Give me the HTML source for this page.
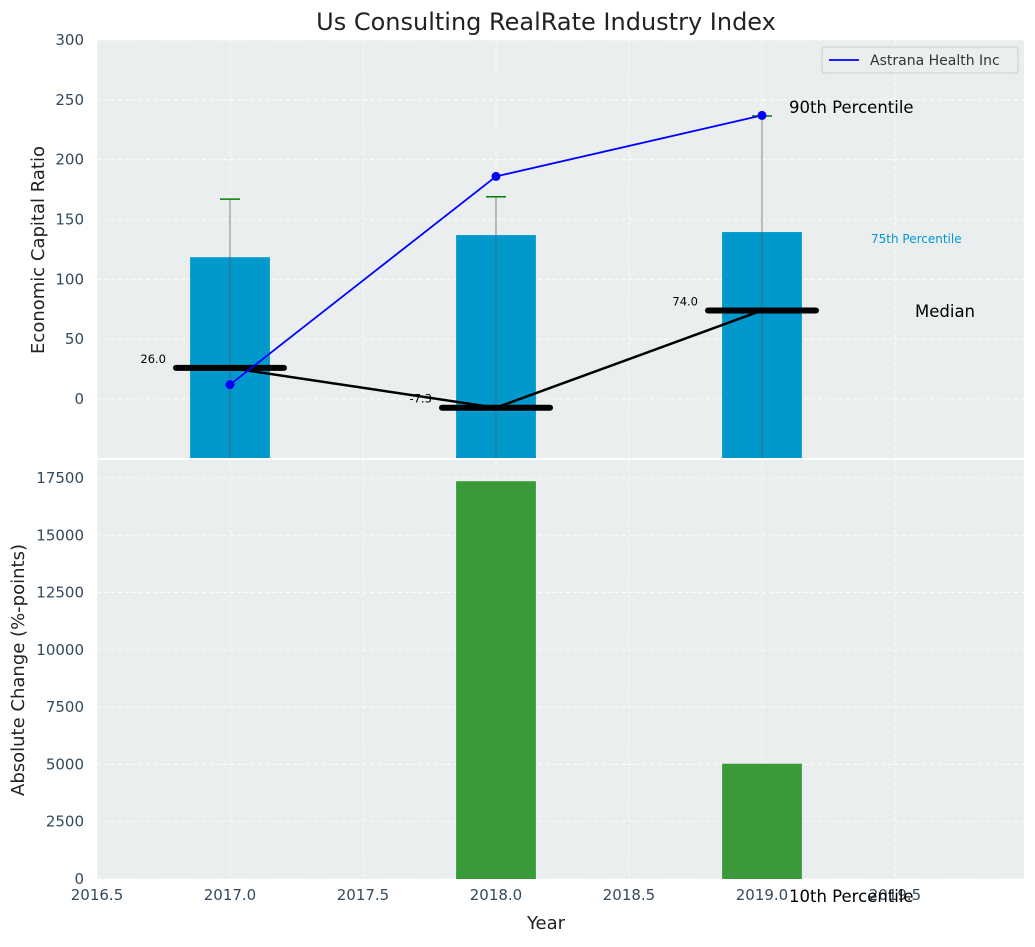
<!DOCTYPE html>
<html><head><meta charset="utf-8"><style>
body{margin:0;background:#fff;font-family:"Liberation Sans","DejaVu Sans",sans-serif;}
</style></head><body>
<svg id="chart" width="1035" height="942" xmlns="http://www.w3.org/2000/svg" font-family="DejaVu Sans, Liberation Sans, sans-serif">
<rect width="1035" height="942" fill="#fff"/>
<text x="546" y="30" font-size="24" text-anchor="middle" fill="#222">Us Consulting RealRate Industry Index</text>
<g id="topg"></g><g id="botg"></g>
</svg>
<script>
const years=[2017,2018,2019];
const bar75=[118.5,137,139.5];
const err90=[167,169,236.5];
const company=[12,186,237];
const median=[26,-7.3,74];
const change=[0,17360,5030];
const topTicks=[0,50,100,150,200,250,300];
const botTicks=[0,2500,5000,7500,10000,12500,15000,17500];
const xTicks=[2016.5,2017,2017.5,2018,2018.5,2019,2019.5];
const NS="http://www.w3.org/2000/svg";
const L=97,R=1024;
const xs=v=>L+(v-2016.5)/(3.485)*(R-L);
const yT=v=>399-(v)*(359/300);
const yB=v=>879-v*(401/17500);
function el(p,t,a,txt){const e=document.createElementNS(NS,t);for(const k in a)e.setAttribute(k,a[k]);if(txt!=null)e.textContent=txt;p.appendChild(e);return e;}
const svg=document.getElementById('chart');
const gTop=document.getElementById('topg'),gBot=document.getElementById('botg');
let bg=el(gTop,'rect',{x:L,y:40,width:R-L,height:418,fill:'#eaeeef'});


let bg2=el(gBot,'rect',{x:L,y:460,width:R-L,height:419,fill:'#eaeeef'});


xTicks.forEach(t=>{const x=xs(t);
 el(gTop,'line',{x1:x,x2:x,y1:40,y2:458,stroke:'#fff','stroke-dasharray':'4,3','stroke-width':0.8});
 el(gBot,'line',{x1:x,x2:x,y1:460,y2:879,stroke:'#fff','stroke-dasharray':'4,3','stroke-width':0.8});
 const lt=el(svg,'text',{x:x,y:900,'font-size':15,'text-anchor':'middle',fill:'#34495e'},t.toFixed(1));
 
 
});
topTicks.forEach(t=>{const y=yT(t);
 el(gTop,'line',{x1:L,x2:R,y1:y,y2:y,stroke:'#fff','stroke-dasharray':'4,3','stroke-width':0.8});
 const lt=el(gTop,'text',{x:84,y:y+5,'font-size':15,'text-anchor':'end',fill:'#34495e'},t);
 
 
});
botTicks.forEach(t=>{const y=yB(t);
 el(gBot,'line',{x1:L,x2:R,y1:y,y2:y,stroke:'#fff','stroke-dasharray':'4,3','stroke-width':0.8});
 const lt=el(gBot,'text',{x:84,y:y+5,'font-size':15,'text-anchor':'end',fill:'#34495e'},t);
 
 
});
const bw=0.3*(R-L)/3.485;
years.forEach((yr,i)=>{
 const b=el(gTop,'rect',{x:xs(yr)-bw/2,y:yT(bar75[i]),width:bw,height:458-yT(bar75[i]),fill:'#0099cc'});
 
 
 const e=el(gTop,'line',{x1:xs(yr),x2:xs(yr),y1:yT(err90[i]),y2:458,stroke:'#555','stroke-width':1,opacity:0.7});
 
 
 const c=el(gTop,'line',{x1:xs(yr)-10,x2:xs(yr)+10,y1:yT(err90[i]),y2:yT(err90[i]),stroke:'green','stroke-width':1.5});
 
 
});
const mp=el(gTop,'polyline',{points:years.map((y,i)=>xs(y)+','+yT(median[i])).join(' '),fill:'none',stroke:'#000','stroke-width':2.5});


years.forEach((yr,i)=>{
 const m=el(gTop,'line',{x1:xs(yr)-54,x2:xs(yr)+54,y1:yT(median[i]),y2:yT(median[i]),stroke:'#000','stroke-width':6,'stroke-linecap':'round'});
 
 
 const t=el(gTop,'text',{x:xs(yr)-64,y:yT(median[i])-5,'font-size':11.5,'text-anchor':'end',fill:'#000'},median[i].toFixed(1));
 
 
});
const cl=el(gTop,'polyline',{points:years.map((y,i)=>xs(y)+','+yT(company[i])).join(' '),fill:'none',stroke:'#0000ff','stroke-width':1.8});


years.forEach((yr,i)=>{
 const p=el(gTop,'circle',{cx:xs(yr),cy:yT(company[i]),r:4.5,fill:'#0000ff'});
 
 
});
years.forEach((yr,i)=>{ if(!change[i])return;
 const b=el(gBot,'rect',{x:xs(yr)-bw/2,y:yB(change[i]),width:bw,height:879-yB(change[i]),fill:'#3a9a3a'});
 
 
});
</script>
<svg style="position:absolute;left:0;top:0" width="1035" height="942" xmlns="http://www.w3.org/2000/svg" font-family="DejaVu Sans, Liberation Sans, sans-serif">
<text x="789" y="113" font-size="16.5" fill="#000">90th Percentile</text>
<text x="871" y="243" font-size="12" fill="#0099cc">75th Percentile</text>
<text x="915" y="317" font-size="16.5" fill="#000">Median</text>
<text x="789" y="902" font-size="16.5" fill="#000">10th Percentile</text>
<g>
<rect x="822" y="47" width="196" height="26" rx="3" fill="#eaeeef" stroke="#ccc"/>
<line x1="829" x2="859" y1="60" y2="60" stroke="#0000ff" stroke-width="1.8"/>
<text x="870" y="65" font-size="14" fill="#333">Astrana Health Inc</text>
</g>
<text x="546" y="929" font-size="18" text-anchor="middle" fill="#222">Year</text>
<text transform="translate(44,250) rotate(-90)" font-size="18" text-anchor="middle" fill="#222">Economic Capital Ratio</text>
<text transform="translate(24,670) rotate(-90)" font-size="18" text-anchor="middle" fill="#222">Absolute Change (%-points)</text>
</svg>
</body></html>
